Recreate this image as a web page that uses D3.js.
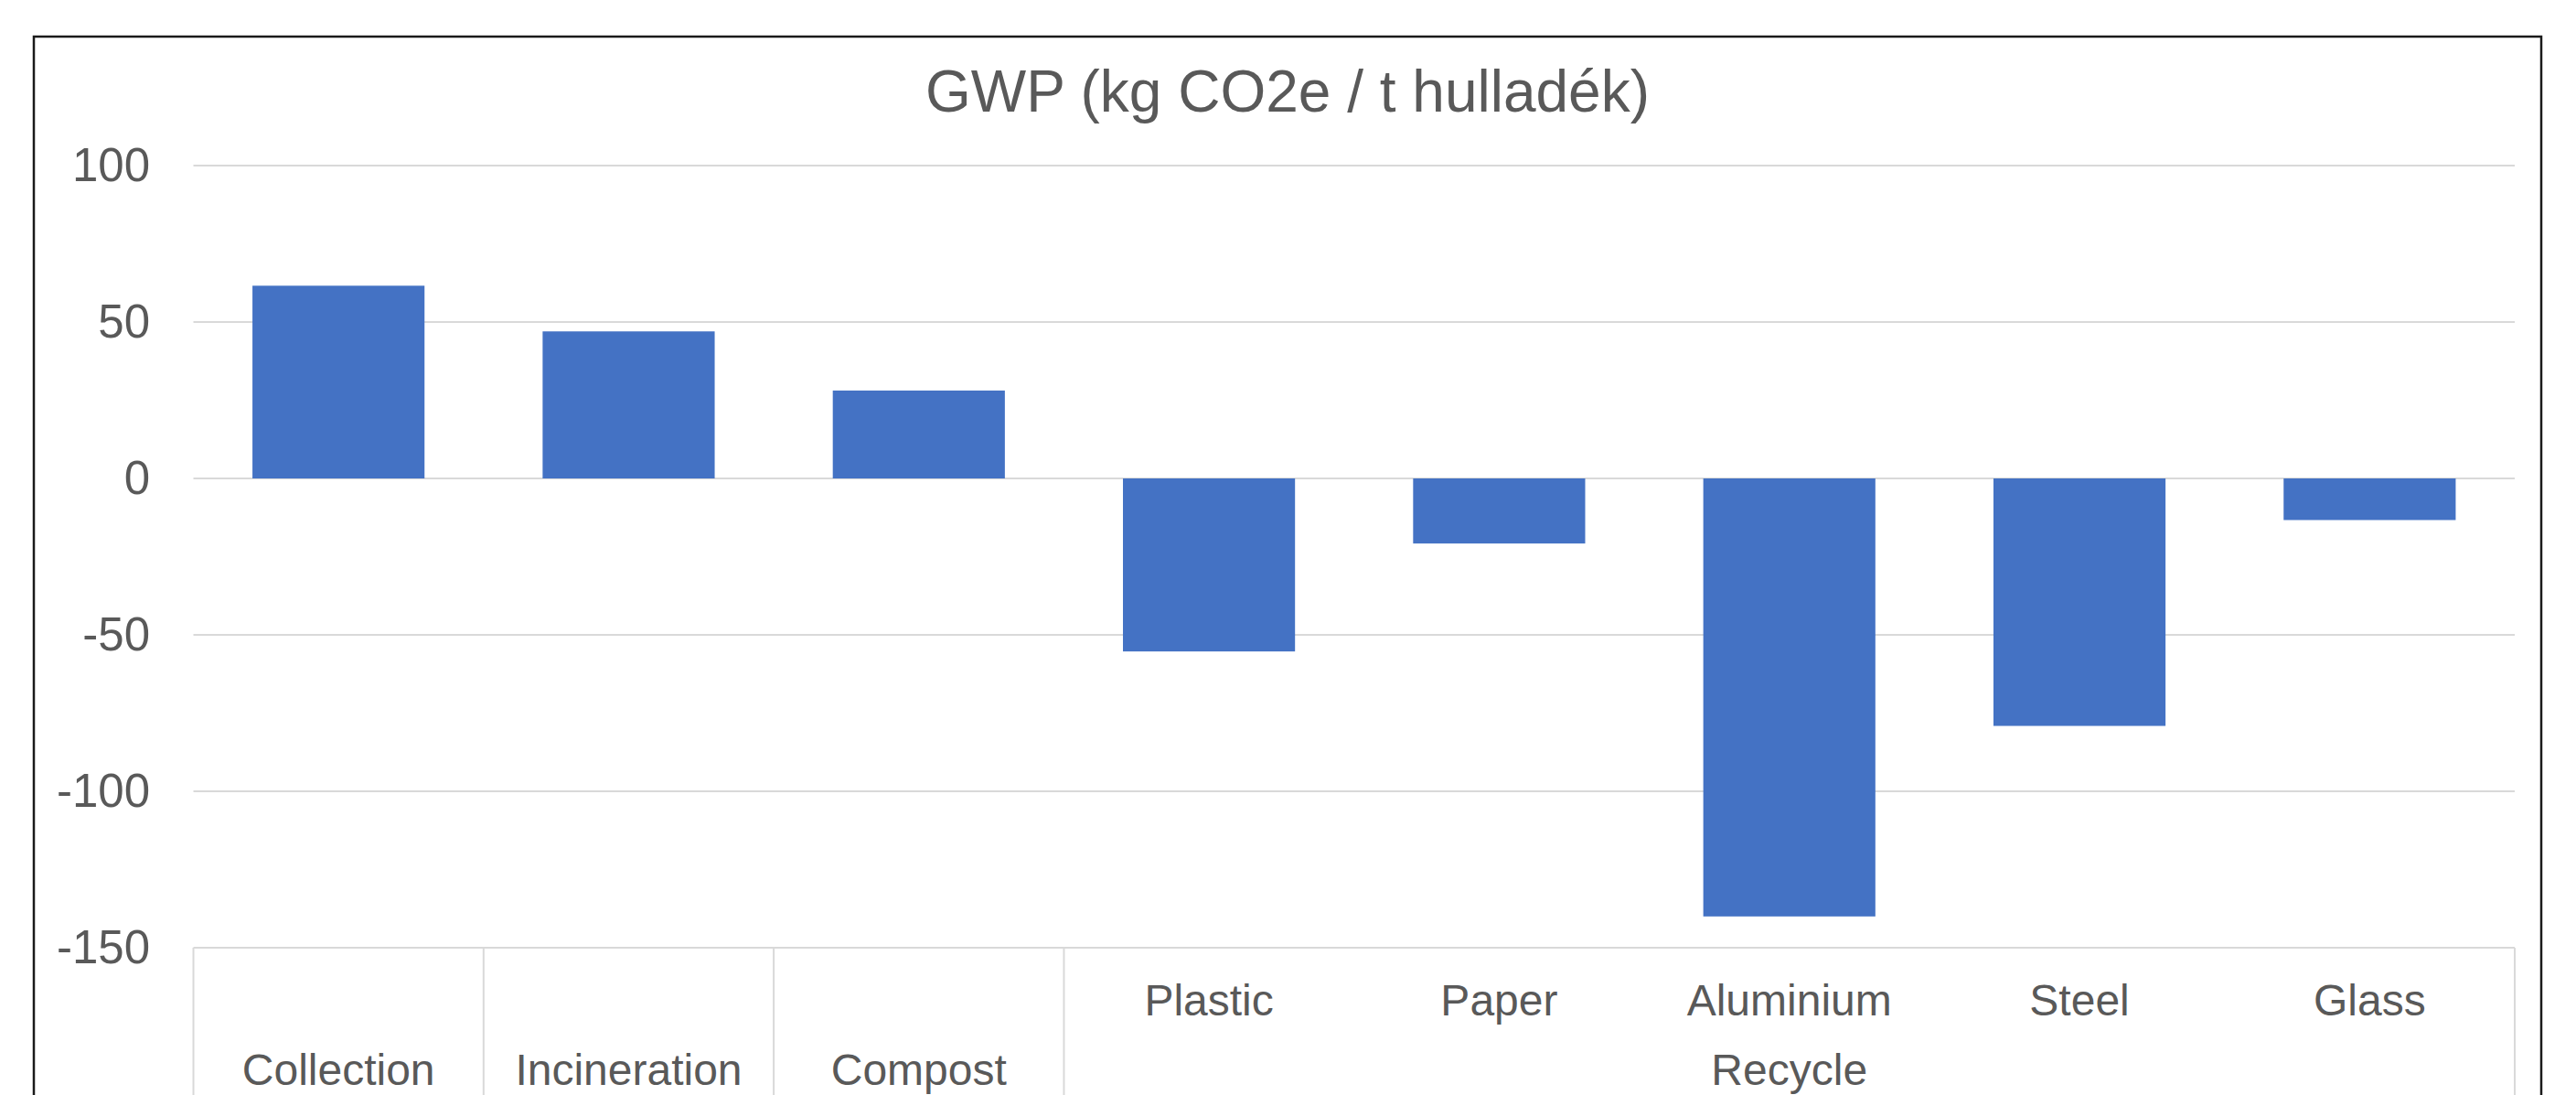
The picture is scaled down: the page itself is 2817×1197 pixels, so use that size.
<!DOCTYPE html>
<html>
<head>
<meta charset="utf-8">
<script src="https://cdn.jsdelivr.net/npm/d3@7"></script>
<style>
  html, body { margin: 0; padding: 0; background: #fff; overflow: hidden; }
  text { font-family: "Liberation Sans", Arial, sans-serif; fill: #595959; }
</style>
</head>
<body>
<script>
const title = "GWP (kg CO2e / t hulladék)";
const categories = ["Collection", "Incineration", "Compost", "Plastic", "Paper", "Aluminium", "Steel", "Glass"];
const subLabels = ["", "", "", "Plastic", "Paper", "Aluminium", "Steel", "Glass"];
const groups = ["Collection", "Incineration", "Compost", "Recycle", "Recycle", "Recycle", "Recycle", "Recycle"];
const values = [61.6, 47.0, 28.1, -55.3, -20.8, -140, -79.1, -13.3];
const yTicks = [100, 50, 0, -50, -100, -150];

const width = 2817, height = 1197;
const margin = {left: 211.5, right: 2750, top: 181, bottom: 1036};

const svg = d3.select("body").append("svg")
    .attr("width", width)
    .attr("height", height);

// chart border (runs off the bottom like the original)
svg.append("rect")
    .attr("x", 37).attr("y", 40)
    .attr("width", 2742).attr("height", 1300)
    .attr("fill", "#fff")
    .attr("stroke", "#1a1a1a")
    .attr("stroke-width", 2.5);

const x = d3.scaleBand()
    .domain(categories)
    .range([margin.left, margin.right])
    .paddingInner(0.407)
    .paddingOuter(0.2035);

const y = d3.scaleLinear()
    .domain([-150, 100])
    .range([margin.bottom, margin.top]);

// gridlines
svg.append("g")
    .selectAll("line")
    .data(yTicks)
    .join("line")
    .attr("x1", margin.left).attr("x2", margin.right)
    .attr("y1", d => y(d)).attr("y2", d => y(d))
    .attr("stroke", "#d9d9d9")
    .attr("stroke-width", 2);

// y axis labels (plain hyphen, like Excel)
const yAxis = d3.axisLeft(y).tickValues(yTicks).tickSize(0).tickPadding(0)
    .tickFormat(d => String(d));
const yg = svg.append("g")
    .attr("transform", `translate(164,0)`)
    .call(yAxis);
yg.select(".domain").remove();
yg.selectAll("text")
    .attr("font-size", 51)
    .attr("font-family", "Liberation Sans, Arial, sans-serif")
    .attr("fill", "#595959");

// bars
svg.append("g")
    .selectAll("rect")
    .data(values)
    .join("rect")
    .attr("x", (d, i) => x(categories[i]))
    .attr("width", x.bandwidth())
    .attr("y", d => y(Math.max(0, d)))
    .attr("height", d => Math.abs(y(d) - y(0)))
    .attr("fill", "#4472c4");

// multi-level category axis
const half = (x.step() - x.bandwidth()) / 2;
const groupNames = Array.from(new Set(groups));
const groupSpans = groupNames.map(g => {
    const idx = groups.map((d, i) => d === g ? i : -1).filter(i => i >= 0);
    return {
        name: g,
        x0: x(categories[idx[0]]) - half,
        x1: x(categories[idx[idx.length - 1]]) + x.bandwidth() + half
    };
});

const sepX = groupSpans.map(d => d.x0).concat([groupSpans[groupSpans.length - 1].x1]);
svg.append("g")
    .selectAll("line")
    .data(sepX)
    .join("line")
    .attr("x1", d => d).attr("x2", d => d)
    .attr("y1", y(-150)).attr("y2", height + 50)
    .attr("stroke", "#d9d9d9")
    .attr("stroke-width", 2);

svg.append("g")
    .selectAll("text")
    .data(subLabels)
    .join("text")
    .attr("x", (d, i) => x(categories[i]) + x.bandwidth() / 2)
    .attr("y", 1110)
    .attr("text-anchor", "middle")
    .attr("font-size", 48)
    .text(d => d);

svg.append("g")
    .selectAll("text")
    .data(groupSpans)
    .join("text")
    .attr("x", d => (d.x0 + d.x1) / 2)
    .attr("y", 1186)
    .attr("text-anchor", "middle")
    .attr("font-size", 48)
    .text(d => d.name);

// title
svg.append("text")
    .attr("x", 1408)
    .attr("y", 122)
    .attr("text-anchor", "middle")
    .attr("font-size", 64)
    .text(title);
</script>
</body>
</html>
